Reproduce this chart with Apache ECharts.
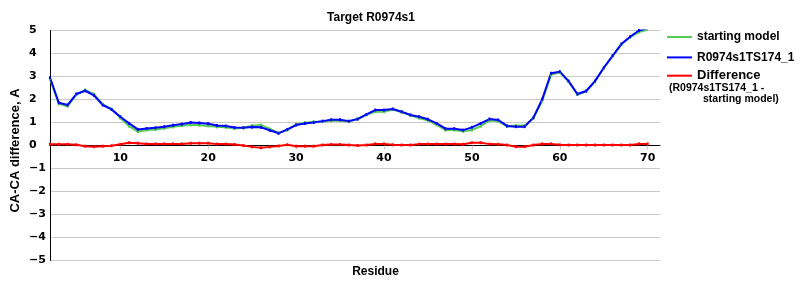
<!DOCTYPE html>
<html><head><meta charset="utf-8">
<script src="https://cdn.jsdelivr.net/npm/echarts@6/dist/echarts.min.js"></script>
<style>html,body{margin:0;padding:0;background:#fff}#c{width:800px;height:300px}</style>
</head><body><div id="c"></div>
<script>
const residues = [2,3,4,5,6,7,8,9,10,11,12,13,14,15,16,17,18,19,20,21,22,23,24,25,26,27,28,29,30,31,32,33,34,35,36,37,38,39,40,41,42,43,44,45,46,47,48,49,50,51,52,53,54,55,56,57,58,59,60,61,62,63,64,65,66,67,68,69,70];
const modelValues = [2.95,1.86,1.76,2.24,2.38,2.18,1.76,1.57,1.25,0.96,0.70,0.74,0.77,0.82,0.88,0.93,1.00,0.98,0.95,0.87,0.85,0.78,0.77,0.80,0.79,0.66,0.53,0.70,0.89,0.96,1.00,1.06,1.12,1.12,1.06,1.15,1.35,1.54,1.54,1.59,1.47,1.33,1.25,1.14,0.96,0.73,0.73,0.67,0.79,0.96,1.15,1.11,0.85,0.82,0.82,1.21,2.01,3.14,3.21,2.80,2.24,2.37,2.80,3.38,3.90,4.41,4.73,5.00,5.10];
const startValues = [2.90,1.81,1.71,2.21,2.41,2.23,1.79,1.58,1.20,0.84,0.60,0.67,0.70,0.75,0.81,0.86,0.90,0.88,0.85,0.81,0.79,0.74,0.77,0.86,0.89,0.72,0.55,0.67,0.92,0.99,1.03,1.04,1.08,1.08,1.04,1.15,1.33,1.47,1.47,1.56,1.45,1.31,1.19,1.08,0.90,0.67,0.67,0.62,0.67,0.84,1.09,1.06,0.83,0.87,0.87,1.19,1.94,3.07,3.18,2.78,2.22,2.35,2.78,3.36,3.88,4.39,4.71,4.93,5.03];
const diffValues = [0.05,0.05,0.05,0.03,-0.03,-0.05,-0.03,-0.01,0.05,0.12,0.10,0.07,0.07,0.07,0.07,0.07,0.10,0.10,0.10,0.06,0.06,0.04,0.00,-0.06,-0.10,-0.06,-0.02,0.03,-0.03,-0.03,-0.03,0.02,0.04,0.04,0.02,0.00,0.02,0.07,0.07,0.03,0.02,0.02,0.06,0.06,0.06,0.06,0.06,0.05,0.12,0.12,0.06,0.05,0.02,-0.05,-0.05,0.02,0.07,0.07,0.03,0.02,0.02,0.02,0.02,0.02,0.02,0.02,0.02,0.07,0.07];
const xTicks = [10,20,30,40,50,60,70];
const seriesNames = ['starting model','R0974s1TS174_1','Difference'];

const pair = arr => residues.map((r,i)=>[r,arr[i]]);
const chart = echarts.init(document.getElementById('c'), null, {renderer:'canvas'});
const mk = (name, data, color) => ({
  name, type:'line', data, color,
  symbol:'rect', symbolSize:[2,3], showSymbol:true,
  lineStyle:{width:2, color}, itemStyle:{color},
  animation:false, clip:true
});
const legendTops = [31, 51.4, 69.2];
const mkLegend = (i, size) => ({
  orient:'vertical', left:667, top:legendTops[i], itemWidth:25, itemHeight:14, itemGap:0, padding:0,
  icon:'path://M0,6L25,6L25,8L0,8Z',
  textStyle:{fontFamily:'Liberation Sans', fontWeight:'bold', fontSize:size, color:'#000'},
  data:[seriesNames[i]]
});
chart.setOption({
  animation:false,
  backgroundColor:'#fff',
  title:{text:'Target R0974s1', left:366, top:7, textAlign:'center',
    textStyle:{fontFamily:'Liberation Sans', fontWeight:'bold', fontSize:12, color:'#000'}},
  grid:{left:50, right:140, top:30.5, bottom:39.5, containLabel:false, outerBoundsMode:'none'},
  legend:[mkLegend(0,12), mkLegend(1,12), mkLegend(2,13)],
  graphic:[
    {type:'text', left:669, top:82.5, style:{text:'(R0974s1TS174_1 -', font:'bold 10.5px "Liberation Sans"', fill:'#000'}},
    {type:'text', left:703, top:93.5, style:{text:'starting model)', font:'bold 10.5px "Liberation Sans"', fill:'#000'}}
  ],
  xAxis:{type:'value', min:2, max:71.4, position:'bottom', offset:-115,
    name:'Residue', nameLocation:'middle', nameGap:120, nameMoveOverlap:false,
    nameTextStyle:{fontFamily:'Liberation Sans', fontWeight:'bold', fontSize:12, color:'#000', verticalAlign:'top', padding:[0,0,0,41]},
    axisLine:{onZero:false, lineStyle:{color:'#000', width:1}},
    axisTick:{show:true, customValues:xTicks, length:4, lineStyle:{color:'#ccc'}},
    axisLabel:{customValues:xTicks, margin:7, fontFamily:'DejaVu Sans', fontWeight:'bold', fontSize:11, color:'#000'},
    splitLine:{show:false}},
  yAxis:{type:'value', min:-5, max:5, interval:1,
    name:'CA-CA difference, A', nameLocation:'middle', nameGap:28, nameMoveOverlap:false,
    nameTextStyle:{fontFamily:'Liberation Sans', fontWeight:'bold', fontSize:13, color:'#000', padding:[0,10,0,0]},
    axisLine:{show:true, lineStyle:{color:'#000', width:1}},
    axisTick:{show:false},
    axisLabel:{margin:21, align:'left', fontFamily:'DejaVu Sans', fontWeight:'bold', fontSize:11, color:'#000',
      formatter:v=> v<0 ? '\u2212'+Math.abs(v) : String(v)},
    splitLine:{show:true, lineStyle:{color:'#c8c8c8', width:1}}},
  series:[
    mk(seriesNames[0], pair(startValues), '#55cc55'),
    mk(seriesNames[1], pair(modelValues), '#0000ff'),
    mk(seriesNames[2], pair(diffValues), '#ff0000')
  ]
});
</script></body></html>
